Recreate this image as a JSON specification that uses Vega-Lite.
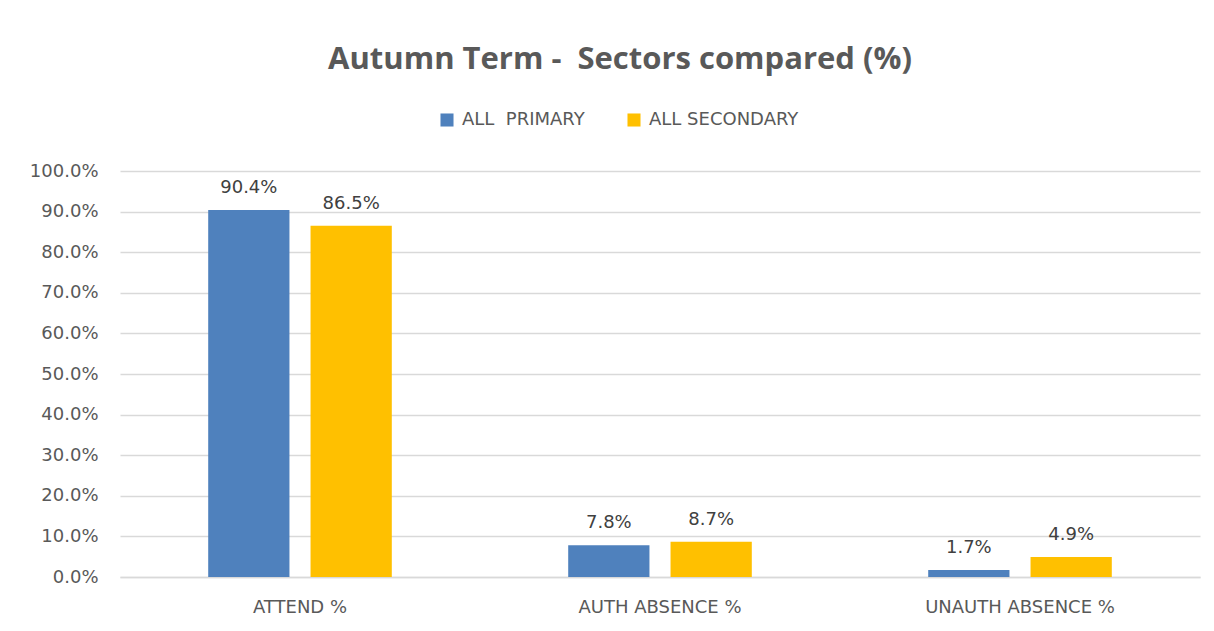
{
  "$schema": "https://vega.github.io/schema/vega-lite/v6.json",
  "width": 1080,
  "height": 406,
  "autosize": "none",
  "padding": {"left": 120, "top": 171, "right": 14, "bottom": 54},
  "background": "white",
  "title": {
    "text": "Autumn Term -\u00a0 Sectors compared (%)",
    "anchor": "middle",
    "dx": -40,
    "offset": 35,
    "fontSize": 31,
    "fontWeight": "bold",
    "font": "Open Sans",
    "color": "#595959"
  },
  "data": {
    "values": [
      {"measure": "ATTEND %", "sector": "ALL\u00a0 PRIMARY", "value": 0.904},
      {"measure": "ATTEND %", "sector": "ALL SECONDARY", "value": 0.865},
      {"measure": "AUTH ABSENCE %", "sector": "ALL\u00a0 PRIMARY", "value": 0.078},
      {"measure": "AUTH ABSENCE %", "sector": "ALL SECONDARY", "value": 0.087},
      {"measure": "UNAUTH ABSENCE %", "sector": "ALL\u00a0 PRIMARY", "value": 0.017},
      {"measure": "UNAUTH ABSENCE %", "sector": "ALL SECONDARY", "value": 0.049}
    ]
  },
  "encoding": {
    "x": {
      "field": "measure",
      "type": "nominal",
      "sort": null,
      "scale": {"paddingInner": 0.49, "paddingOuter": 0.245},
      "axis": {
        "title": null,
        "labelAngle": 0,
        "labelFontSize": 18,
        "labelFont": "DejaVu Sans",
        "labelColor": "#595959",
        "labelPadding": 21,
        "labelLimit": 0,
        "ticks": false,
        "domainColor": "#D9D9D9",
        "domainWidth": 1.5
      }
    },
    "xOffset": {
      "field": "sector",
      "type": "nominal",
      "sort": null,
      "scale": {"paddingInner": 0.206, "paddingOuter": 0}
    },
    "y": {
      "field": "value",
      "type": "quantitative",
      "scale": {"domain": [0, 1], "nice": false},
      "axis": {
        "title": null,
        "format": ".1%",
        "values": [0, 0.1, 0.2, 0.3, 0.4, 0.5, 0.6, 0.7, 0.8, 0.9, 1.0],
        "labelFontSize": 18,
        "labelFont": "DejaVu Sans",
        "labelColor": "#595959",
        "labelPadding": 22,
        "ticks": false,
        "domain": false,
        "gridColor": "#D9D9D9",
        "gridWidth": 1.5
      }
    }
  },
  "layer": [
    {
      "mark": {"type": "bar"},
      "encoding": {
        "color": {
          "field": "sector",
          "type": "nominal",
          "sort": null,
          "scale": {"range": ["#4F81BD", "#FFC000"]},
          "legend": {
            "title": null,
            "orient": "none",
            "direction": "horizontal",
            "legendX": 318,
            "legendY": -60,
            "symbolType": "square",
            "symbolSize": 170,
            "symbolStrokeWidth": 0,
            "labelFontSize": 18,
            "labelFont": "DejaVu Sans",
            "labelColor": "#595959",
            "labelOffset": 6,
            "columnPadding": 40
          }
        }
      }
    },
    {
      "mark": {"type": "text", "baseline": "bottom", "dy": -13, "fontSize": 18, "font": "DejaVu Sans", "color": "#404040"},
      "encoding": {
        "text": {"field": "value", "type": "quantitative", "format": ".1%"}
      }
    }
  ],
  "config": {"view": {"stroke": null}}
}
